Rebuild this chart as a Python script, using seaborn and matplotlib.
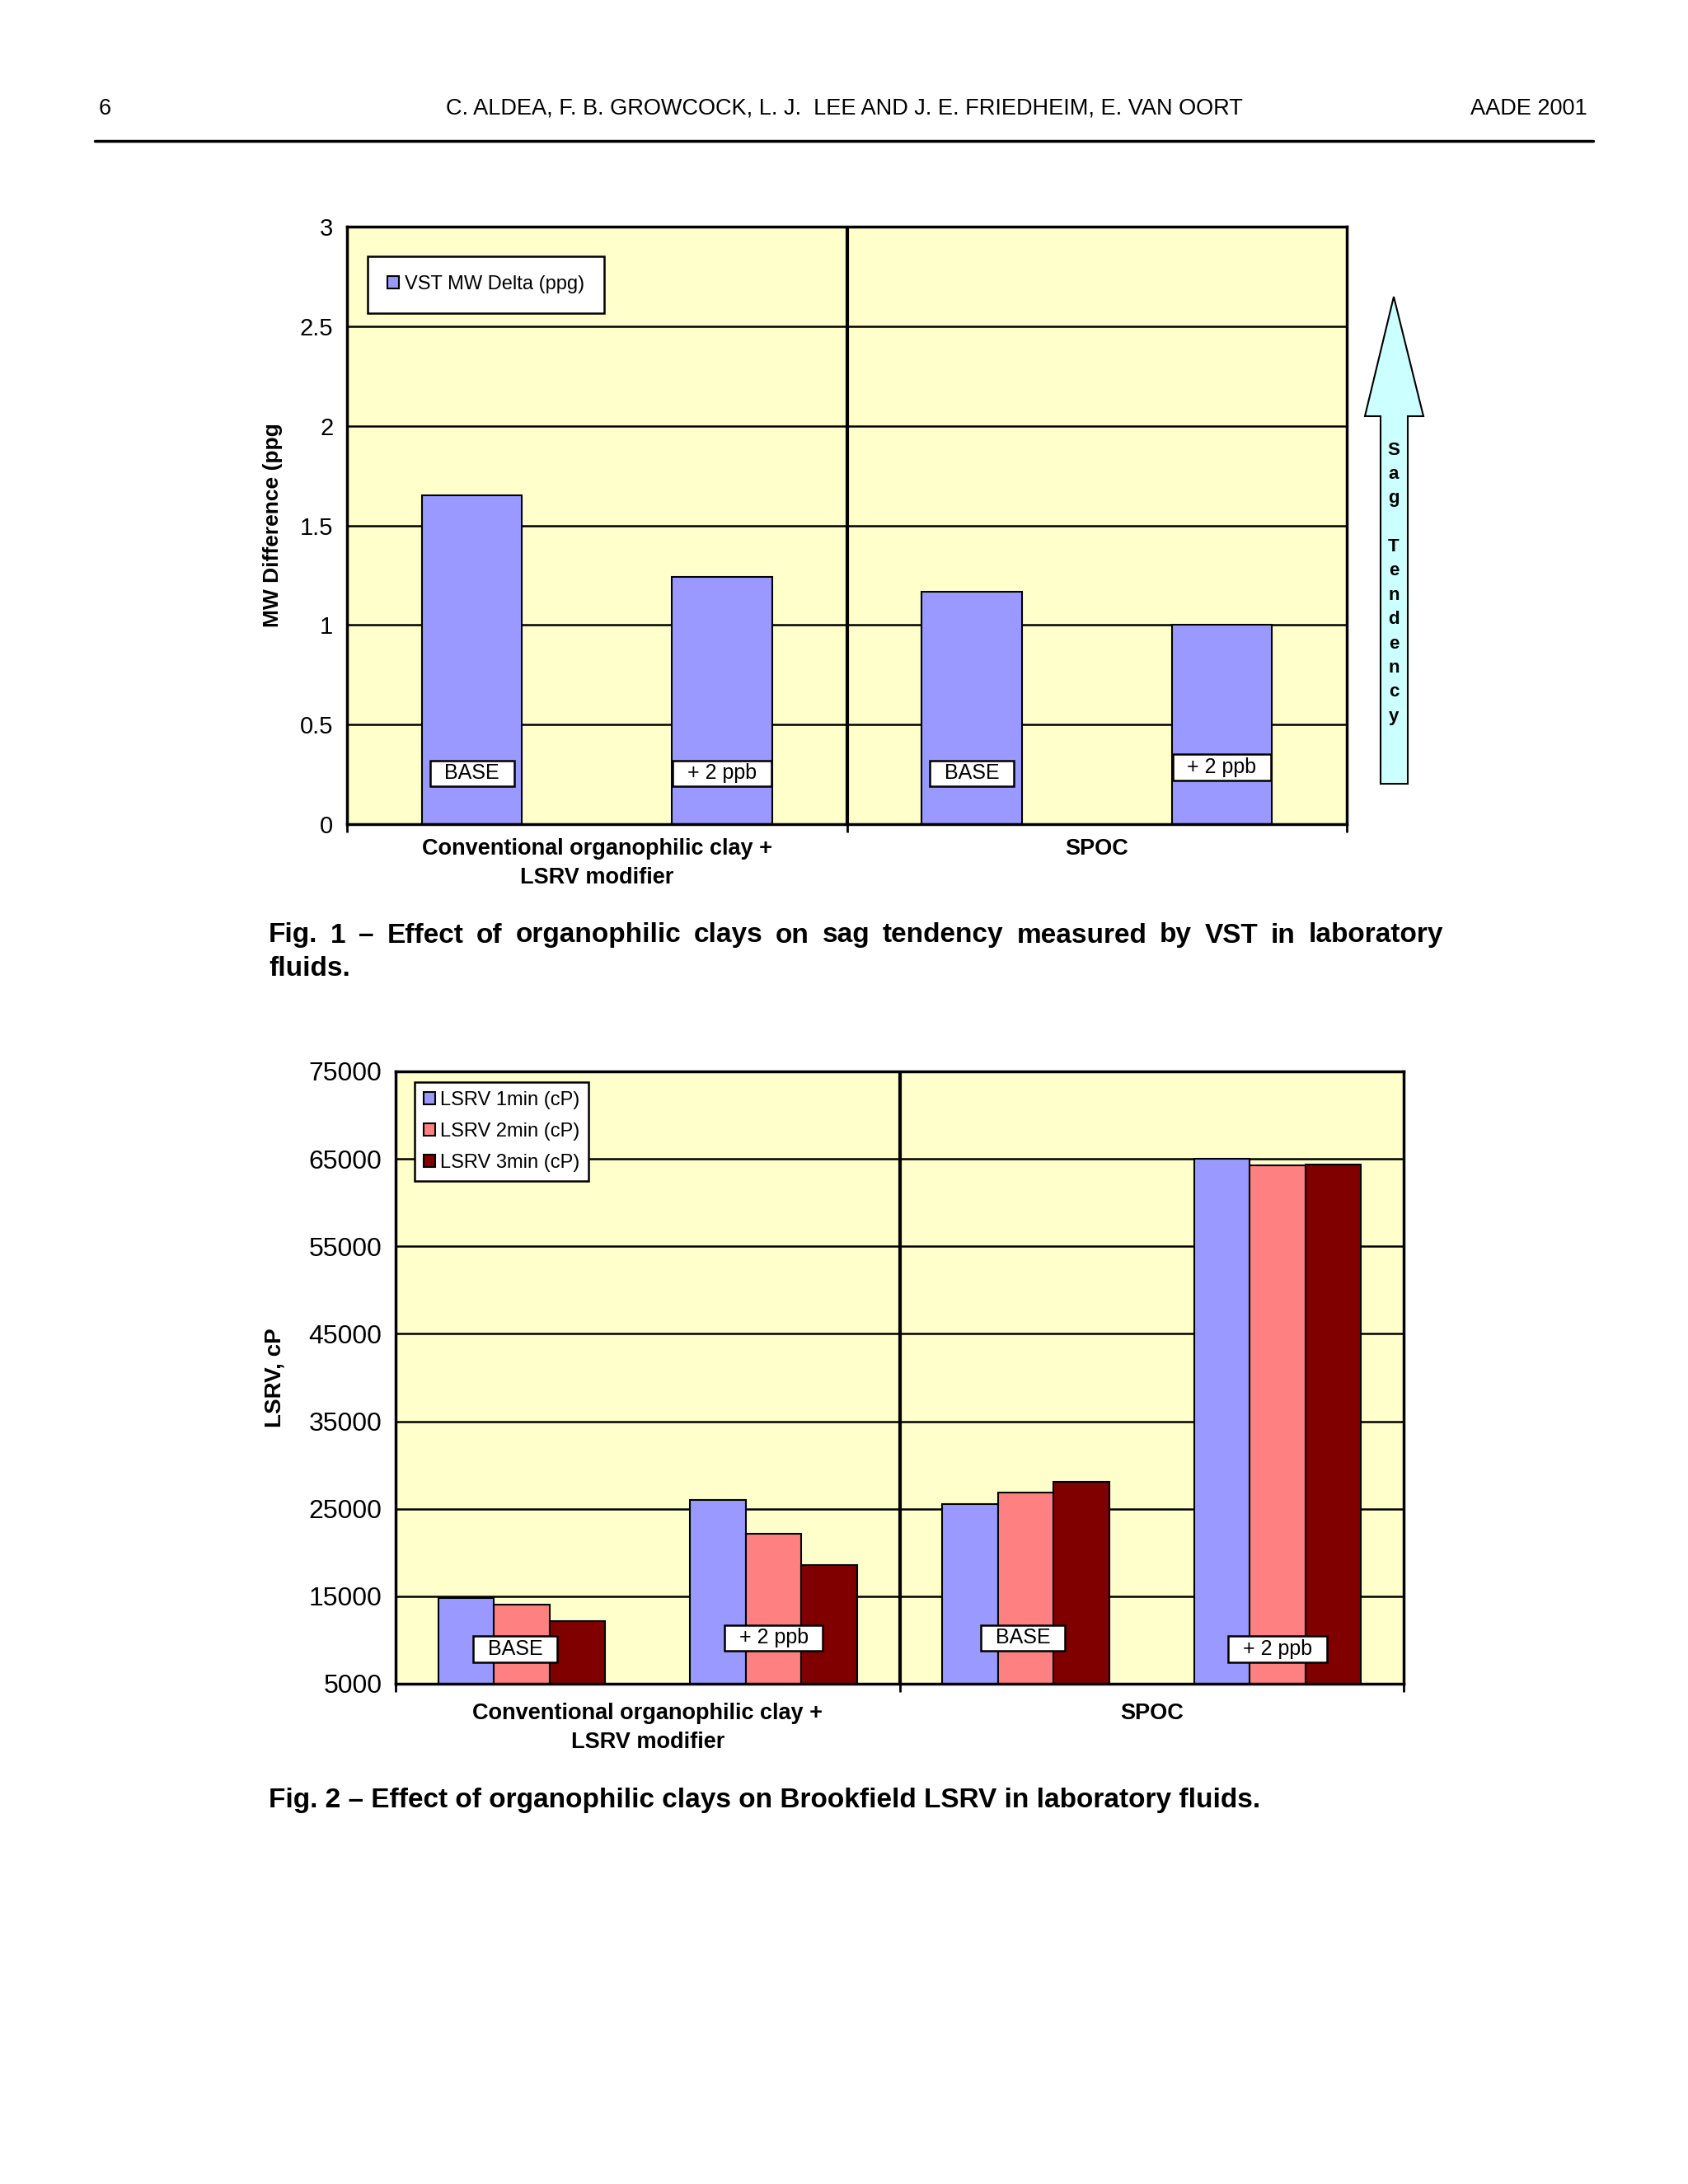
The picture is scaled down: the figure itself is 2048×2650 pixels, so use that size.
import matplotlib

matplotlib.use("Agg")

import matplotlib.pyplot as plt
import pandas as pd
import seaborn as sns
from matplotlib.patches import Patch, Polygon

FIG_W, FIG_H = 2048, 2650
DPI = 100

header_left = "6"
header_center = "C. ALDEA, F. B. GROWCOCK, L. J.  LEE AND J. E. FRIEDHEIM, E. VAN OORT"
header_right = "AADE 2001"

groups = ["Conventional organophilic clay +\nLSRV modifier", "SPOC"]
slots = ["conv_base", "conv_2ppb", "spoc_base", "spoc_2ppb"]
slot_labels = ["BASE", "+ 2 ppb", "BASE", "+ 2 ppb"]

vst_series = "VST MW Delta (ppg)"
vst_delta = [1.65, 1.24, 1.165, 1.0]
vst_ticks = [0, 0.5, 1, 1.5, 2, 2.5, 3]

lsrv_series = ["LSRV 1min (cP)", "LSRV 2min (cP)", "LSRV 3min (cP)"]
lsrv_1min = [14800, 26000, 25500, 65000]
lsrv_2min = [14000, 22100, 26900, 64300]
lsrv_3min = [12200, 18600, 28100, 64400]
lsrv_ticks = [5000, 15000, 25000, 35000, 45000, 55000, 65000, 75000]

arrow_text = "Sag Tendency"
caption1 = "Fig. 1 – Effect of organophilic clays on sag tendency measured by VST in laboratory fluids."
caption2 = "Fig. 2 – Effect of organophilic clays on Brookfield LSRV in laboratory fluids."

BG = "#FFFFCC"
COLORS = ["#9999FF", "#FF8080", "#800000"]
REG = ["Liberation Sans", "DejaVu Sans"]

sns.set_theme(style="white")
plt.rcParams["font.family"] = REG
plt.rcParams.update({"text.color": "black", "axes.labelcolor": "black",
                     "xtick.color": "black", "ytick.color": "black"})


def fpos(x, y):
    # page pixels (top-left origin) -> figure fraction
    return x / FIG_W, 1 - y / FIG_H


def axes_rect(left, top, right, bottom):
    return [left / FIG_W, 1 - bottom / FIG_H, (right - left) / FIG_W, (bottom - top) / FIG_H]


def style_axes(ax, ticks, labels, size):
    ax.set_facecolor(BG)
    ax.set_xlim(-0.5, 3.5)
    ax.set_ylim(ticks[0], ticks[-1])
    ax.set_yticks(ticks)
    ax.set_yticklabels(labels, fontsize=size)
    ax.tick_params(axis="y", length=0, pad=12)
    ax.set_xticks([-0.5, 1.5, 3.5])
    ax.set_xticklabels([])
    ax.tick_params(axis="x", direction="out", length=7, width=2, bottom=True)
    ax.set_xlabel("")
    ax.yaxis.grid(True, color="black", lw=1.8)
    ax.xaxis.grid(False)
    ax.set_axisbelow(True)
    for sp in ax.spines.values():
        sp.set_visible(True)
        sp.set_color("black")
        sp.set_linewidth(2.5)
    ax.axvline(1.5, color="black", lw=3, zorder=3)


def box_label(ax, x, y, text, size):
    ax.text(x, y, "  " + text + "  ", ha="center", va="center", fontsize=size, zorder=6,
            bbox=dict(boxstyle="square,pad=0.15", fc="white", ec="black", lw=1.8))


def justified_line(fig, words, x0, x1, y, **kw):
    r = fig.canvas.get_renderer()
    texts = [fig.text(0, 0, w, ha="left", va="center", **kw) for w in words]
    widths = [t.get_window_extent(r).width for t in texts]
    gap = (x1 - x0 - sum(widths)) / (len(words) - 1)
    x = x0
    for t, w in zip(texts, widths):
        t.set_position(fpos(x, y))
        x += w + gap


fig = plt.figure(figsize=(FIG_W / DPI, FIG_H / DPI), dpi=DPI)
fig.patch.set_facecolor("white")

# page header
fig.text(*fpos(120, 132), header_left, ha="left", va="center", fontsize=19.5)
fig.text(*fpos(1024, 132), header_center, ha="center", va="center", fontsize=19.5)
fig.text(*fpos(1926, 132), header_right, ha="right", va="center", fontsize=19.5)
fig.add_artist(plt.Line2D([115 / FIG_W, 1933 / FIG_W], [1 - 171 / FIG_H] * 2, color="black", lw=2.5))

# Fig. 1
ax1 = fig.add_axes(axes_rect(421, 275, 1634, 1000))
df1 = pd.DataFrame({"slot": slots, "delta": vst_delta})
sns.barplot(data=df1, x="slot", y="delta", order=slots, color=COLORS[0], saturation=1,
            width=0.4, edgecolor="black", linewidth=1.5, errorbar=None, ax=ax1)
style_axes(ax1, vst_ticks, [f"{t:g}" for t in vst_ticks], 21)
ax1.set_ylabel("MW Difference (ppg", fontsize=19, fontweight="bold")
ax1.yaxis.set_label_coords(-0.064, 0.5)
for i, g in enumerate(groups):
    ax1.text(0.5 + 2 * i, -0.024, g, transform=ax1.get_xaxis_transform(), ha="center", va="top",
             fontsize=19.5, fontweight="bold", linespacing=1.45)
vst_label_y = [0.255, 0.255, 0.255, 0.285]
for i, lab in enumerate(slot_labels):
    box_label(ax1, i, vst_label_y[i], lab, 18)
leg1 = ax1.legend(handles=[Patch(fc=COLORS[0], ec="black", lw=1.5)], labels=[vst_series],
                  loc="upper left", bbox_to_anchor=(0.021, 0.951), borderaxespad=0,
                  prop={"size": 17}, frameon=True, fancybox=False,
                  edgecolor="black", framealpha=1, borderpad=1.0, handlelength=0.6,
                  handleheight=0.6, handletextpad=0.3)
leg1.get_frame().set_linewidth(1.8)
leg1.set_zorder(7)

# sag tendency arrow
arrow_px = [(1691, 360), (1727, 505), (1708, 505), (1708, 951), (1675, 951), (1675, 505), (1656, 505)]
fig.add_artist(Polygon([fpos(x, y) for x, y in arrow_px], closed=True, transform=fig.transFigure,
                       fc="#CCFFFF", ec="black", lw=1.5))
for i, ch in enumerate(arrow_text):
    fig.text(*fpos(1691, 546 + 29.4 * i), ch, ha="center", va="center", fontsize=16,
             fontweight="bold")

words = caption1.split(" ")
justified_line(fig, words[:-1], 326, 1751, 1135, fontsize=24, fontweight="bold")
fig.text(*fpos(326, 1176), words[-1], ha="left", va="center", fontsize=24, fontweight="bold")

# Fig. 2
ax2 = fig.add_axes(axes_rect(480, 1300, 1703, 2043))
df2 = pd.DataFrame({
    "slot": slots * 3,
    "series": [s for s in lsrv_series for _ in slots],
    "value": lsrv_1min + lsrv_2min + lsrv_3min,
})
sns.barplot(data=df2, x="slot", y="value", hue="series", order=slots, hue_order=lsrv_series,
            palette=COLORS, saturation=1, width=0.663, edgecolor="black", linewidth=1.5,
            errorbar=None, legend=False, ax=ax2)
style_axes(ax2, lsrv_ticks, [str(t) for t in lsrv_ticks], 23)
ax2.set_ylabel("LSRV, cP", fontsize=20, fontweight="bold")
ax2.yaxis.set_label_coords(-0.109, 0.5)
for i, g in enumerate(groups):
    ax2.text(0.5 + 2 * i, -0.031, g, transform=ax2.get_xaxis_transform(), ha="center", va="top",
             fontsize=19.5, fontweight="bold", linespacing=1.45)
lsrv_label_x = [-0.025, 1.0, 1.99, 3.0]
lsrv_label_y = [8980, 10250, 10250, 8980]
for i, lab in enumerate(slot_labels):
    box_label(ax2, lsrv_label_x[i], lsrv_label_y[i], lab, 18)
leg2 = ax2.legend(handles=[Patch(fc=c, ec="black", lw=1.5) for c in COLORS], labels=lsrv_series,
                  loc="upper left", bbox_to_anchor=(0.019, 0.982), borderaxespad=0,
                  prop={"size": 17}, frameon=True, fancybox=False,
                  edgecolor="black", framealpha=1, borderpad=0.45, labelspacing=0.68,
                  handlelength=0.6, handleheight=0.6, handletextpad=0.25)
leg2.get_frame().set_linewidth(1.8)
leg2.set_zorder(7)

fig.text(*fpos(326, 2185), caption2, ha="left", va="center", fontsize=24, fontweight="bold")

fig.savefig("out.png", dpi=DPI, facecolor="white")
